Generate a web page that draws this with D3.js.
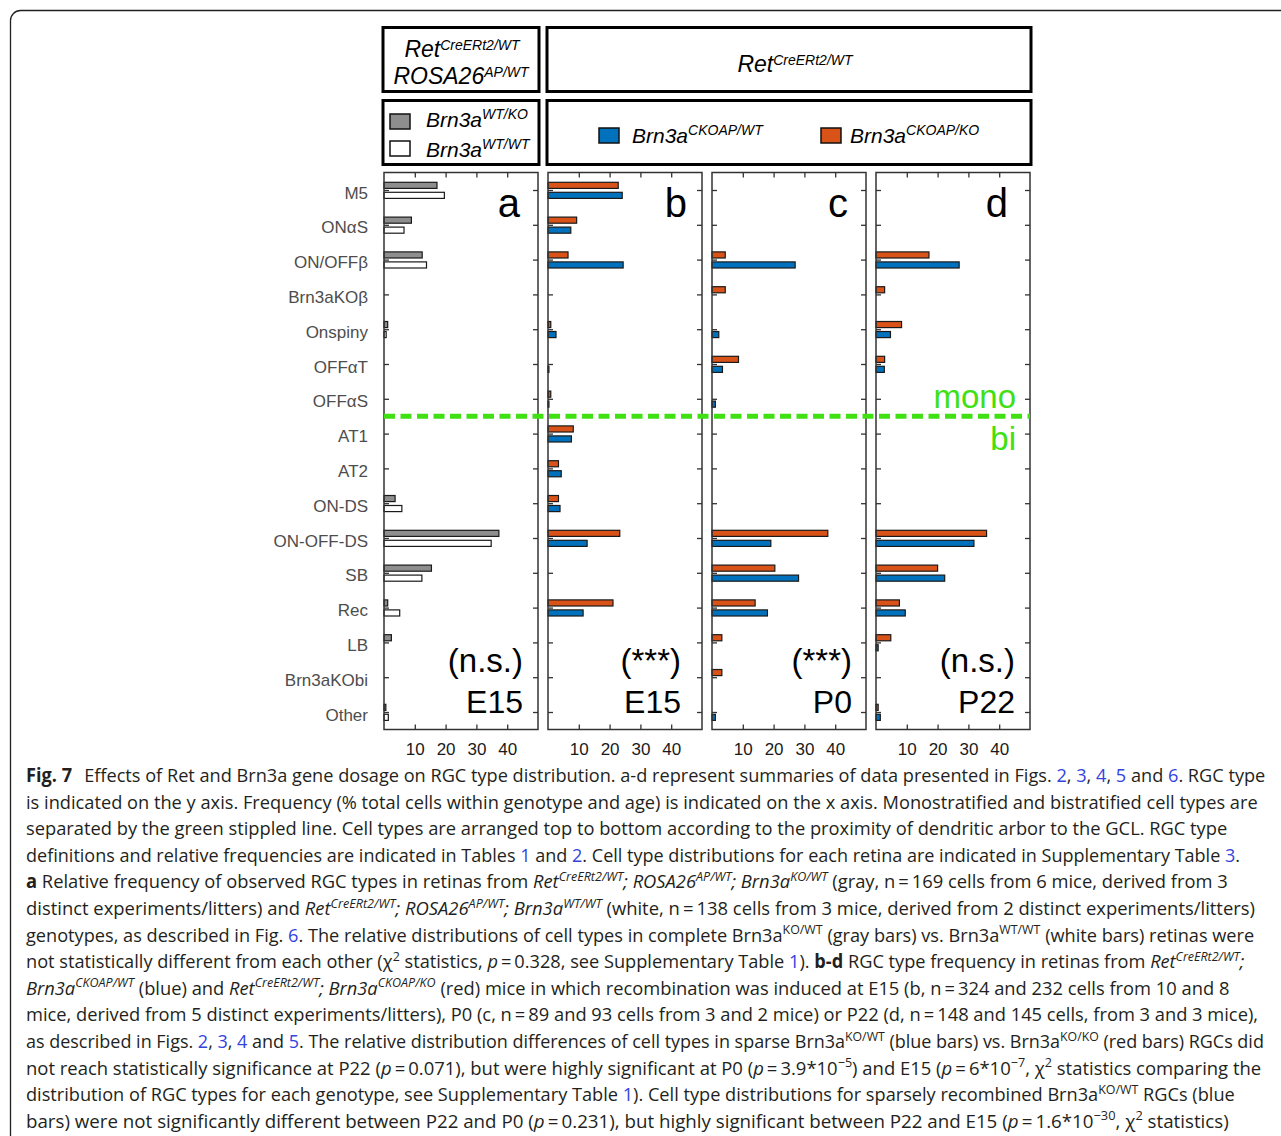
<!DOCTYPE html>
<html>
<head>
<meta charset="utf-8">
<script src="https://cdn.jsdelivr.net/npm/d3@7"></script>
<style>
body { margin: 0; background: #fff; }
svg { display: block; }
text { white-space: pre; }
</style>
</head>
<body>
<div id="chart"></div>
<script>
// RGC types, top (near GCL) to bottom; first seven are monostratified
const cellTypes = ["M5", "ONαS", "ON/OFFβ", "Brn3aKOβ", "Onspiny", "OFFαT", "OFFαS",
    "AT1", "AT2", "ON-DS", "ON-OFF-DS", "SB", "Rec", "LB", "Brn3aKObi", "Other"];
const monoCount = 7;
const xTicks = [10, 20, 30, 40];

// Frequency (% cells)
// a: Ret CreERt2/WT; ROSA26 AP/WT at E15
const grayKOWT  = [17.2, 8.9, 12.4, 0, 1.2, 0, 0, 0, 0, 3.6, 37.3, 15.4, 1.2, 2.4, 0, 0.6];
const whiteWTWT = [19.6, 6.5, 13.8, 0, 0.7, 0, 0, 0, 0, 5.8, 34.8, 12.3, 5.1, 0, 0, 1.4];
// b: E15
const redE15  = [22.8, 9.3, 6.5, 0, 0.9, 0, 0.9, 8.2, 3.4, 3.4, 23.3, 0, 21.1, 0, 0, 0];
const blueE15 = [24.1, 7.4, 24.4, 0, 2.6, 0.3, 0.3, 7.6, 4.3, 3.9, 12.7, 0, 11.4, 0, 0, 0];
// c: P0
const redP0  = [0, 0, 4.3, 4.3, 0, 8.6, 0, 0, 0, 0, 37.6, 20.4, 14.0, 3.2, 3.2, 0];
const blueP0 = [0, 0, 27.0, 0, 2.2, 3.4, 1.1, 0, 0, 0, 19.1, 28.1, 18.0, 0, 0, 1.1];
// d: P22
const redP22  = [0, 0, 17.2, 2.8, 8.3, 2.8, 0, 0, 0, 0, 35.9, 20.0, 7.6, 4.8, 0, 0.7];
const blueP22 = [0, 0, 27.0, 0, 4.7, 2.7, 0, 0, 0, 0, 31.8, 22.3, 9.5, 0.7, 0, 1.4];

const panelLetters = ["a", "b", "c", "d"];
const panelAges = ["E15", "E15", "P0", "P22"];
const panelSig = ["(n.s.)", "(***)", "(***)", "(n.s.)"];

// Colours
const gray = "#8e8e8e", white = "#ffffff", blue = "#0072bd", red = "#d95319";
const green = "#40e012", ink = "#231f20", linkBlue = "#3344dd";

const panels = [
    {upper: grayKOWT, lower: whiteWTWT, colors: [gray, white], letterInset: 18, noteInset: 15},
    {upper: redE15, lower: blueE15, colors: [red, blue], letterInset: 15, noteInset: 21},
    {upper: redP0, lower: blueP0, colors: [red, blue], letterInset: 18, noteInset: 14},
    {upper: redP22, lower: blueP22, colors: [red, blue], letterInset: 22, noteInset: 15}
];

// Layout
let width = 1281, height = 1136;
let panelLeft = 384, panelStep = 164, panelWidth = 154;
let plotTop = 172.5, plotBottom = 729.5;
let font = "'Liberation Sans', Arial, Helvetica, sans-serif";

let svg = d3.select("#chart")
    .append("svg")
        .attr("width", width)
        .attr("height", height);

// Card outline
svg.append("rect")
    .attr("x", 10.5).attr("y", 10.5)
    .attr("width", 1400).attr("height", 1400)
    .attr("rx", 10)
    .attr("fill", "none")
    .attr("stroke", ink)
    .attr("stroke-width", 1.3);

// Rich text helper: segments of [text, flags], flags: b bold, i italic, s superscript, l link
let rich = (text, segs, size, supSize, supRise) => {
    let shift = 0;
    segs.forEach(([t, f]) => {
        let sup = f.includes("s");
        let target = sup ? -supRise : 0;
        text.append("tspan")
            .attr("dy", target - shift)
            .attr("font-size", sup ? supSize : size)
            .attr("font-style", f.includes("i") ? "italic" : null)
            .attr("font-weight", f.includes("b") ? 700 : null)
            .attr("fill", f.includes("l") ? linkBlue : null)
            .text(t);
        shift = target;
    });
    return text;
};

// Scales
let y = d3.scalePoint().domain(cellTypes).range([190, 712]);
let sub = d3.scaleBand().domain(["upper", "lower"]).range([-8.3, 9]).paddingInner(0.27);

let aLeft = panelLeft, aRight = panelLeft + panelWidth;
let bdLeft = panelLeft + panelStep, bdRight = panelLeft + 3 * panelStep + panelWidth;

// Header boxes
let box = (x0, x1, y0, y1) => svg.append("rect")
    .attr("x", x0).attr("y", y0)
    .attr("width", x1 - x0).attr("height", y1 - y0)
    .attr("fill", "#fff").attr("stroke", "#000").attr("stroke-width", 3);

box(aLeft - 1, aRight + 1, 27.5, 91.5);
box(bdLeft - 1, bdRight + 1, 27.5, 91.5);
box(aLeft - 1, aRight + 1, 100.5, 164.5);
box(bdLeft - 1, bdRight + 1, 100.5, 164.5);

let header = (x, yb, segs, size, supSize, supRise, anchor) => rich(
    svg.append("text")
        .attr("x", x).attr("y", yb)
        .attr("text-anchor", anchor)
        .attr("font-family", font)
        .attr("fill", "#000"),
    segs, size, supSize, supRise);

header((aLeft + aRight) / 2 + 1, 57, [["Ret", "i"], ["CreERt2/WT", "is"]], 23, 14, 7, "middle");
header((aLeft + aRight) / 2, 84, [["ROSA26", "i"], ["AP/WT", "is"]], 23, 14, 7, "middle");
header((bdLeft + bdRight) / 2 + 6, 72, [["Ret", "i"], ["CreERt2/WT", "is"]], 23, 14, 7, "middle");

// Legends
let swatch = (x, yy, fill) => svg.append("rect")
    .attr("x", x).attr("y", yy).attr("width", 20).attr("height", 15)
    .attr("fill", fill).attr("stroke", "#111").attr("stroke-width", 1.5);

swatch(390, 114, gray);
header(426, 127, [["Brn3a", "i"], ["WT/KO", "is"]], 21, 14, 8, "start");
swatch(390, 141, white);
header(426, 157, [["Brn3a", "i"], ["WT/WT", "is"]], 21, 14, 8, "start");
swatch(599, 128, blue);
header(632, 143, [["Brn3a", "i"], ["CKOAP/WT", "is"]], 21, 14, 8, "start");
swatch(821, 128, red);
header(850, 143, [["Brn3a", "i"], ["CKOAP/KO", "is"]], 21, 14, 8, "start");

// Panels
panels.forEach((p, i) => {
    let x0 = panelLeft + i * panelStep;
    let x = d3.scaleLinear().domain([0, 50]).range([x0, x0 + panelWidth]);
    let g = svg.append("g");

    let rows = cellTypes.map((c, j) => ({c, upper: p.upper[j], lower: p.lower[j]}));
    ["upper", "lower"].forEach((key, k) => {
        g.selectAll(`rect.${key}`)
            .data(rows.filter(d => d[key] > 0))
            .join("rect")
                .attr("class", key)
                .attr("x", x(0))
                .attr("y", d => y(d.c) + sub(key) + 0.6)
                .attr("width", d => x(d[key]) - x(0))
                .attr("height", sub.bandwidth() - 1.2)
                .attr("fill", p.colors[k])
                .attr("stroke", "#1a1a1a")
                .attr("stroke-width", 1.2);
    });

    // Frame
    g.append("rect")
        .attr("x", x0).attr("y", plotTop)
        .attr("width", panelWidth).attr("height", plotBottom - plotTop)
        .attr("fill", "none")
        .attr("stroke", "#333")
        .attr("stroke-width", 1.5);

    let styleAxis = (a) => {
        a.select(".domain").remove();
        a.selectAll(".tick line").attr("stroke", "#333").attr("stroke-width", 1.3);
    };

    // Inward ticks on all four sides
    g.append("g")
        .attr("transform", `translate(0,${plotTop})`)
        .call(d3.axisTop(x).tickValues(xTicks).tickSize(-5).tickFormat(""))
        .call(styleAxis);
    g.append("g")
        .attr("transform", `translate(0,${plotBottom})`)
        .call(d3.axisBottom(x).tickValues(xTicks).tickSize(-5).tickPadding(13))
        .call(styleAxis)
        .call(a => a.selectAll("text")
            .attr("font-family", font)
            .attr("font-size", 17)
            .attr("fill", "#1a1a1a"));
    g.append("g")
        .attr("transform", `translate(${x0},0)`)
        .call(d3.axisLeft(y).tickSize(-5).tickPadding(16).tickFormat(i === 0 ? null : ""))
        .call(styleAxis)
        .call(a => a.selectAll("text")
            .attr("font-family", font)
            .attr("font-size", 17)
            .attr("dy", "0.47em")
            .attr("fill", "#4d4d4d"));
    g.append("g")
        .attr("transform", `translate(${x0 + panelWidth},0)`)
        .call(d3.axisRight(y).tickSize(-5).tickFormat(""))
        .call(styleAxis);

    // Annotations
    let right = x0 + panelWidth;
    g.append("text")
        .attr("x", right - p.letterInset).attr("y", 217)
        .attr("text-anchor", "end")
        .attr("font-family", font).attr("font-size", 40)
        .text(panelLetters[i]);
    g.append("text")
        .attr("x", right - p.noteInset).attr("y", 672)
        .attr("text-anchor", "end")
        .attr("font-family", font).attr("font-size", 33)
        .text(panelSig[i]);
    g.append("text")
        .attr("x", right - p.noteInset).attr("y", 713)
        .attr("text-anchor", "end")
        .attr("font-family", font).attr("font-size", 32)
        .text(panelAges[i]);
});

// Mono / bi separator
let sepY = (y(cellTypes[monoCount - 1]) + y(cellTypes[monoCount])) / 2;
svg.append("line")
    .attr("x1", panelLeft).attr("x2", bdRight)
    .attr("y1", sepY).attr("y2", sepY)
    .attr("stroke", green)
    .attr("stroke-width", 5)
    .attr("stroke-dasharray", "11,5.5");
svg.append("text")
    .attr("x", bdRight - 14).attr("y", 408)
    .attr("text-anchor", "end")
    .attr("font-family", font).attr("font-size", 33)
    .attr("fill", green)
    .text("mono");
svg.append("text")
    .attr("x", bdRight - 14).attr("y", 450)
    .attr("text-anchor", "end")
    .attr("font-family", font).attr("font-size", 33)
    .attr("fill", green)
    .text("bi");

// Caption
const T = "\u2009";
const captionLines = [
    [["Fig. 7", "b"], ["\u2002" + T + "Effects of Ret and Brn3a gene dosage on RGC type distribution. a-d represent summaries of data presented in Figs. ", ""], ["2", "l"], [", ", ""], ["3", "l"], [", ", ""], ["4", "l"], [", ", ""], ["5", "l"], [" and ", ""], ["6", "l"], [". RGC type", ""]],
    [["is indicated on the y axis. Frequency (% total cells within genotype and age) is indicated on the x axis. Monostratified and bistratified cell types are", ""]],
    [["separated by the green stippled line. Cell types are arranged top to bottom according to the proximity of dendritic arbor to the GCL. RGC type", ""]],
    [["definitions and relative frequencies are indicated in Tables ", ""], ["1", "l"], [" and ", ""], ["2", "l"], [". Cell type distributions for each retina are indicated in Supplementary Table ", ""], ["3", "l"], [".", ""]],
    [["a", "b"], [" Relative frequency of observed RGC types in retinas from ", ""], ["Ret", "i"], ["CreERt2/WT", "is"], ["; ROSA26", "i"], ["AP/WT", "is"], ["; Brn3a", "i"], ["KO/WT", "is"], [" (gray, n" + T + "=" + T + "169 cells from 6 mice, derived from 3", ""]],
    [["distinct experiments/litters) and ", ""], ["Ret", "i"], ["CreERt2/WT", "is"], ["; ROSA26", "i"], ["AP/WT", "is"], ["; Brn3a", "i"], ["WT/WT", "is"], [" (white, n" + T + "=" + T + "138 cells from 3 mice, derived from 2 distinct experiments/litters)", ""]],
    [["genotypes, as described in Fig. ", ""], ["6", "l"], [". The relative distributions of cell types in complete Brn3a", ""], ["KO/WT", "s"], [" (gray bars) vs. Brn3a", ""], ["WT/WT", "s"], [" (white bars) retinas were", ""]],
    [["not statistically different from each other (\u03c7", ""], ["2", "s"], [" statistics, ", ""], ["p", "i"], [T + "=" + T + "0.328, see Supplementary Table ", ""], ["1", "l"], ["). ", ""], ["b-d", "b"], [" RGC type frequency in retinas from ", ""], ["Ret", "i"], ["CreERt2/WT", "is"], [";", "i"]],
    [["Brn3a", "i"], ["CKOAP/WT", "is"], [" (blue) and ", ""], ["Ret", "i"], ["CreERt2/WT", "is"], ["; Brn3a", "i"], ["CKOAP/KO", "is"], [" (red) mice in which recombination was induced at E15 (b, n" + T + "=" + T + "324 and 232 cells from 10 and 8", ""]],
    [["mice, derived from 5 distinct experiments/litters), P0 (c, n" + T + "=" + T + "89 and 93 cells from 3 and 2 mice) or P22 (d, n" + T + "=" + T + "148 and 145 cells, from 3 and 3 mice),", ""]],
    [["as described in Figs. ", ""], ["2", "l"], [", ", ""], ["3", "l"], [", ", ""], ["4", "l"], [" and ", ""], ["5", "l"], [". The relative distribution differences of cell types in sparse Brn3a", ""], ["KO/WT", "s"], [" (blue bars) vs. Brn3a", ""], ["KO/KO", "s"], [" (red bars) RGCs did", ""]],
    [["not reach statistically significance at P22 (", ""], ["p", "i"], [T + "=" + T + "0.071), but were highly significant at P0 (", ""], ["p", "i"], [T + "=" + T + "3.9*10", ""], ["\u22125", "s"], [") and E15 (", ""], ["p", "i"], [T + "=" + T + "6*10", ""], ["\u22127", "s"], [", \u03c7", ""], ["2", "s"], [" statistics comparing the", ""]],
    [["distribution of RGC types for each genotype, see Supplementary Table ", ""], ["1", "l"], ["). Cell type distributions for sparsely recombined Brn3a", ""], ["KO/WT", "s"], [" RGCs (blue", ""]],
    [["bars) were not significantly different between P22 and P0 (", ""], ["p", "i"], [T + "=" + T + "0.231), but highly significant between P22 and E15 (", ""], ["p", "i"], [T + "=" + T + "1.6*10", ""], ["\u221230", "s"], [", \u03c7", ""], ["2", "s"], [" statistics)", ""]]
];
const captionEnds = [1266, 1259, 1228, 1241, 1229, 1256, 1255, 1245, 1230, 1259, 1265, 1262, 1236, 1229];

let captionLeft = 26, captionTop = 782, lineGap = 26.6;
captionLines.forEach((segs, i) => {
    let yy = captionTop + i * lineGap;
    let t = svg.append("text")
        .attr("transform", `translate(${captionLeft},${yy})`)
        .attr("font-family", "'Open Sans', 'Noto Sans', sans-serif")
        .attr("fill", ink);
    rich(t, segs, 19, 13, 7.5);
    let w = t.node().getComputedTextLength();
    let k = (captionEnds[i] - captionLeft) / w;
    t.attr("transform", `translate(${captionLeft},${yy}) scale(${k},1)`);
});
</script>
</body>
</html>
